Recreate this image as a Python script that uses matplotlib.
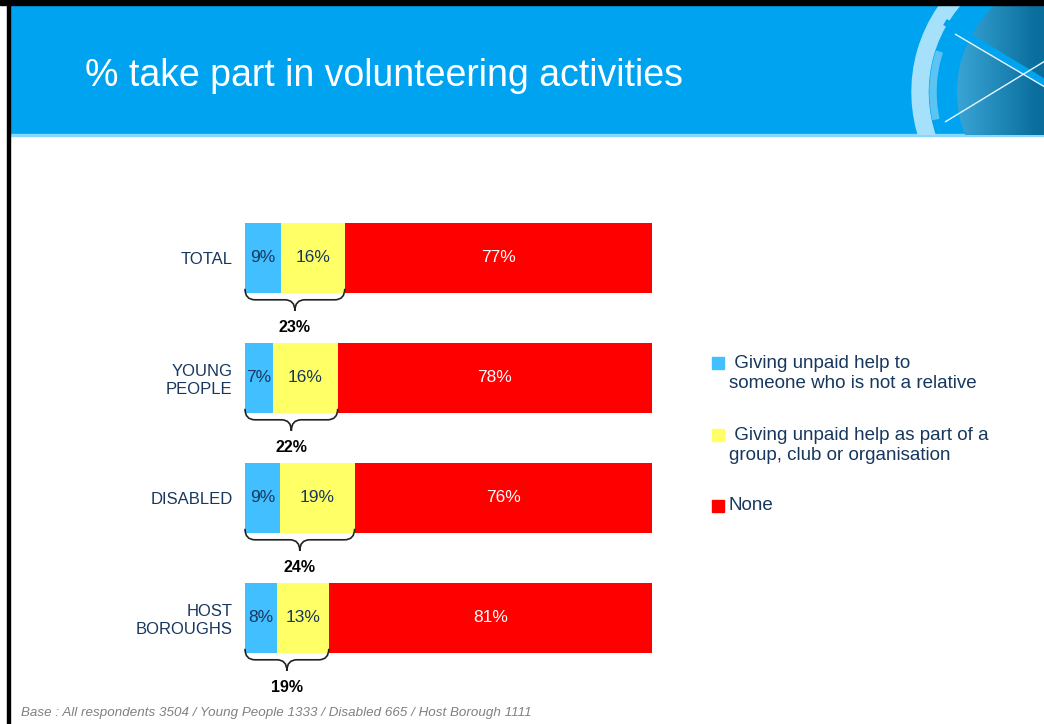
import numpy as np
import matplotlib.pyplot as plt
from matplotlib.patches import Rectangle, Circle, Wedge, PathPatch
from matplotlib.path import Path

plt.rcParams['font.family'] = ['Liberation Sans', 'DejaVu Sans']

# survey results, % of respondents
groups = ['TOTAL', 'YOUNG\nPEOPLE', 'DISABLED', 'HOST\nBOROUGHS']
help_person = [9, 7, 9, 8]
help_group = [16, 16, 19, 13]
no_help = [77, 78, 76, 81]
any_help = [23, 22, 24, 19]

series_names = [' Giving unpaid help to\nsomeone who is not a relative',
                ' Giving unpaid help as part of a\ngroup, club or organisation',
                'None']
series_colors = ['#42BFFF', '#FFFF66', '#FF0000']
value_colors = ['#17375E', '#17375E', 'white']

title = '% take part in volunteering activities'
base_note = 'Base : All respondents 3504 / Young People 1333 / Disabled 665 / Host Borough 1111'

NAVY = '#17375E'
HEADER = '#00A3EF'
W, H = 1044, 724

fig = plt.figure(figsize=(W / 100, H / 100), dpi=100)

# background layer in pixel units
bg = fig.add_axes([0, 0, 1, 1])
bg.set_xlim(0, W)
bg.set_ylim(H, 0)
bg.axis('off')

bg.add_patch(Rectangle((9, 5), W - 9, 130, color=HEADER, zorder=1))
bg.add_patch(Rectangle((9, 134), W - 9, 2, color='#8AD8FB', zorder=1))
bg.add_patch(Rectangle((0, 0), W, 5, color='black', zorder=5))
bg.add_patch(Rectangle((7, 5), 3, H, color='black', zorder=5))

# logo in the corner of the header
clip = Rectangle((880, 5), W - 880, 130, transform=bg.transData)
grad = np.linspace(0, 1, 200)[None, :] * np.ones((100, 1))
lens_cmap = plt.matplotlib.colors.LinearSegmentedColormap.from_list(
    'lens', ['#3AA6D6', '#0B6F9E', '#075C87', '#0E7CAE'])
img = bg.imshow(grad, cmap=lens_cmap, extent=(955, 1195, 135, 5),
                aspect='auto', zorder=2)
lens = Circle((1075, 92), 118, transform=bg.transData)
img.set_clip_path(lens)
arc = Wedge((1062, 92), 150, 160, 232, width=16, color='#A6E1FB', zorder=3)
bg.add_patch(arc)
arc.set_clip_path(clip)
inner = Wedge((1062, 92), 132, 168, 198, width=6, color='#5CC4F3', zorder=3)
bg.add_patch(inner)
inner.set_clip_path(clip)
for (x0, y0, x1, y1), lw, col in [((945, 22, 1050, 86), 5, HEADER),
                                  ((955, 34, 1050, 90), 1.0, '#E6F7FF'),
                                  ((945, 122, 1050, 58), 1.0, '#E6F7FF')]:
    ln, = bg.plot([x0, x1], [y0, y1], color=col, lw=lw, zorder=4,
                  solid_capstyle='butt')
    ln.set_clip_path(clip)

bg.text(85, 76, title, color='white', fontsize=27, va='center', ha='left', zorder=6)
bg.text(21, 713, base_note, color='#808080', fontsize=9.6, style='italic',
        va='center', ha='left')

# legend
leg_y = [363, 435, 506]
for name, color, y in zip(series_names, series_colors, leg_y):
    bg.add_patch(Rectangle((712, y - 6), 12, 12, color=color))
    for i, line in enumerate(name.split('\n')):
        bg.text(729, y + i * 21, line, color=NAVY, fontsize=13.5,
                va='center', ha='left')

# stacked bars, each row scaled to the full width
ax = fig.add_axes([245 / W, 1 - 678 / H, 407 / W, 480 / H])
ax.set_xlim(0, 1)
ax.set_ylim(3.5, -0.5)
ax.patch.set_alpha(0)
for s in ax.spines.values():
    s.set_visible(False)
ax.set_xticks([])
ax.set_yticks(range(len(groups)), groups)
ax.tick_params(axis='y', length=0, pad=9, labelsize=12, labelcolor=NAVY)

data = np.array([help_person, help_group, no_help], dtype=float)
shares = data / data.sum(axis=0)
y = np.arange(len(groups))
left = np.zeros(len(groups))
bar_h = 70 / 120
for vals, share, color, tcol in zip(data, shares, series_colors, value_colors):
    bars = ax.barh(y, share, left=left, height=bar_h, color=color)
    ax.bar_label(bars, labels=[f'{v:.0f}%' for v in vals], label_type='center',
                 color=tcol, fontsize=12.5)
    left += share

# braces under the first two segments with the combined figure
rx = 10 / 407
ry = 11 / 120
for i, (x1, total) in enumerate(zip(shares[0] + shares[1], any_help)):
    x0 = 0.0
    y0 = i + bar_h / 2 - 0.035
    xm = (x0 + x1) / 2
    verts = [(x0, y0), (x0, y0 + ry), (x0 + rx, y0 + ry),
             (xm - rx, y0 + ry), (xm, y0 + ry), (xm, y0 + 2 * ry),
             (xm, y0 + ry), (xm + rx, y0 + ry),
             (x1 - rx, y0 + ry), (x1, y0 + ry), (x1, y0)]
    codes = [Path.MOVETO, Path.CURVE3, Path.CURVE3,
             Path.LINETO, Path.CURVE3, Path.CURVE3,
             Path.CURVE3, Path.CURVE3,
             Path.LINETO, Path.CURVE3, Path.CURVE3]
    ax.add_patch(PathPatch(Path(verts, codes), facecolor='none',
                           edgecolor='#222222', lw=1.2, clip_on=False))
    ax.text(xm, i + 0.575, f'{total}%', ha='center', va='center',
            fontsize=11.5, fontweight='bold', color='black')

fig.savefig('out.png', dpi=100)
